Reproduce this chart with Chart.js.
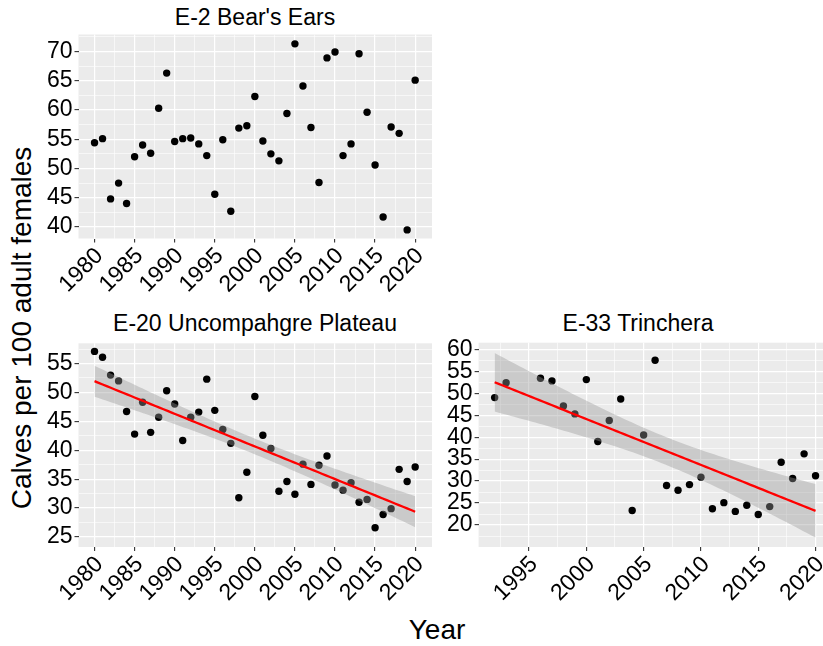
<!DOCTYPE html>
<html>
<head>
<meta charset="utf-8">
<script src="https://cdn.jsdelivr.net/npm/chart.js@4.4.1/dist/chart.umd.min.js"></script>
<style>
  html, body { margin: 0; padding: 0; background: #fff; }
  body { width: 823px; height: 646px; overflow: hidden; position: relative; font-family: "Liberation Sans", Arial, sans-serif; color: #000; }
  .panel { position: absolute; }
  .label { position: absolute; white-space: nowrap; transform: translate(-50%, -50%); }
  .ptitle { font-size: 23px; }
  .atitle { font-size: 28px; }
</style>
</head>
<body>
<div class="label ptitle" style="left:255px; top:17px;">E-2 Bear's Ears</div>
<div class="label ptitle" style="left:255px; top:323px;">E-20 Uncompahgre Plateau</div>
<div class="label ptitle" style="left:638px; top:323px;">E-33 Trinchera</div>
<div class="label atitle" style="left:22px; top:328px; transform: translate(-50%, -50%) rotate(-90deg);">Calves per 100 adult females</div>
<div class="label atitle" style="left:437px; top:630px;">Year</div>

<div class="panel" style="left:0; top:30px; width:440px; height:280px;"><canvas id="bearChart"></canvas></div>
<div class="panel" style="left:0; top:338px; width:440px; height:270px;"><canvas id="uncChart"></canvas></div>
<div class="panel" style="left:440px; top:338px; width:400px; height:270px;"><canvas id="trinChart"></canvas></div>

<script>
// E-2 Bear's Ears
const bearYears = [1980, 1981, 1982, 1983, 1984, 1985, 1986, 1987, 1988, 1989,
  1990, 1991, 1992, 1993, 1994, 1995, 1996, 1997, 1998, 1999,
  2000, 2001, 2002, 2003, 2004, 2005, 2006, 2007, 2008, 2009,
  2010, 2011, 2012, 2013, 2014, 2015, 2016, 2017, 2018, 2019, 2020];
const bearValues = [54.4, 55.1, 44.8, 47.5, 44.0, 52.0, 54.0, 52.6, 60.3, 66.3,
  54.6, 55.1, 55.2, 54.2, 52.2, 45.6, 54.9, 42.7, 56.9, 57.3,
  62.3, 54.7, 52.5, 51.3, 59.4, 71.3, 64.1, 57.0, 47.6, 68.9,
  69.9, 52.2, 54.2, 69.6, 59.6, 50.6, 41.7, 57.1, 56.0, 39.5, 65.1];

// E-20 Uncompahgre Plateau
const uncYears = bearYears;
const uncValues = [57.1, 56.1, 53.0, 52.0, 46.7, 42.8, 48.3, 43.1, 45.7, 50.3,
  48.0, 41.7, 45.7, 46.6, 52.3, 46.9, 43.6, 41.2, 31.8, 36.2,
  49.3, 42.6, 40.3, 32.9, 34.6, 32.4, 37.6, 34.1, 37.4, 39.0,
  34.0, 33.1, 34.4, 31.0, 31.5, 26.6, 28.9, 29.9, 36.7, 34.6, 37.1];

// E-33 Trinchera
const trinYears = [1992, 1993, 1996, 1997, 1998, 1999, 2000, 2001, 2002, 2003,
  2004, 2005, 2006, 2007, 2008, 2009, 2010, 2011, 2012, 2013,
  2014, 2015, 2016, 2017, 2018, 2019, 2020];
const trinValues = [49.0, 52.4, 53.4, 52.8, 47.1, 45.3, 53.1, 39.0, 43.8, 48.7,
  23.3, 40.5, 57.5, 29.0, 27.9, 29.2, 30.9, 23.7, 25.1, 23.1,
  24.5, 22.4, 24.2, 34.3, 30.6, 36.2, 31.2];

// axis tick labels
const yearTicksLong = [1980, 1985, 1990, 1995, 2000, 2005, 2010, 2015, 2020];
const yearTicksShort = [1995, 2000, 2005, 2010, 2015, 2020];
const bearTicksY = [40, 45, 50, 55, 60, 65, 70];
const uncTicksY = [25, 30, 35, 40, 45, 50, 55];
const trinTicksY = [20, 25, 30, 35, 40, 45, 50, 55, 60];

// 97.5% t quantiles for the lm confidence band (df = n - 2)
const tQuantile = { 39: 2.0227, 25: 2.0595 };

const FONT = "'Liberation Sans', Arial, sans-serif";

function toPoints(xs, ys) {
  return xs.map((x, i) => ({ x: x, y: ys[i] }));
}

// linear fit + 95% confidence ribbon, like geom_smooth(method = "lm")
function lmBand(xs, ys) {
  const n = xs.length;
  const mx = xs.reduce((a, b) => a + b, 0) / n;
  const my = ys.reduce((a, b) => a + b, 0) / n;
  let sxx = 0, sxy = 0;
  xs.forEach((x, i) => { sxx += (x - mx) * (x - mx); sxy += (x - mx) * (ys[i] - my); });
  const slope = sxy / sxx;
  const icpt = my - slope * mx;
  let sse = 0;
  xs.forEach((x, i) => { const r = ys[i] - (icpt + slope * x); sse += r * r; });
  const s = Math.sqrt(sse / (n - 2));
  const t = tQuantile[n - 2];
  const x0 = Math.min(...xs), x1 = Math.max(...xs);
  const fit = [], upper = [], lower = [];
  for (let i = 0; i < 80; i++) {
    const x = x0 + (x1 - x0) * i / 79;
    const yh = icpt + slope * x;
    const se = s * Math.sqrt(1 / n + (x - mx) * (x - mx) / sxx);
    fit.push({ x: x, y: yh });
    upper.push({ x: x, y: yh + t * se });
    lower.push({ x: x, y: yh - t * se });
  }
  return { fit, upper, lower };
}

// majors plus the half-way minor lines that fall inside the range
function withMinor(majors, min, max) {
  const step = majors[1] - majors[0];
  const out = [];
  const first = majors[0] - step / 2;
  for (let v = first; v <= majors[majors.length - 1] + step / 2 + 1e-9; v += step / 2) {
    if (v >= min - 1e-9 && v <= max + 1e-9) out.push(Math.round(v * 100) / 100);
  }
  return out;
}

function axis(min, max, majors, horizontal, size) {
  const all = withMinor(majors, min, max);
  const isMajor = (ctx) => ctx.tick && majors.includes(ctx.tick.value);
  return {
    type: "linear",
    min: min,
    max: max,
    afterBuildTicks: (s) => { s.ticks = all.map((v) => ({ value: v })); },
    afterFit: (s) => {
      if (horizontal) { s.height = size; } else { s.width = size; }
      s.paddingTop = 0; s.paddingBottom = 0; s.paddingLeft = 0; s.paddingRight = 0;
    },
    ticks: {
      autoSkip: false,
      color: "#000",
      font: { family: FONT, size: 23 },
      padding: horizontal ? 0 : 2,
      labelOffset: horizontal ? 5 : 0,
      minRotation: horizontal ? 45 : 0,
      maxRotation: horizontal ? 45 : 0,
      callback: (v) => (majors.includes(v) ? String(v) : "")
    },
    grid: {
      color: "#ffffff",
      lineWidth: (ctx) => (isMajor(ctx) ? 1.2 : 0.6),
      tickColor: (ctx) => (isMajor(ctx) ? "#333333" : "rgba(0,0,0,0)"),
      tickLength: 4,
      tickWidth: 1.1
    },
    border: { display: false }
  };
}

const plotBg = {
  id: "plotBg",
  beforeDraw(chart) {
    const a = chart.chartArea;
    const ctx = chart.ctx;
    ctx.save();
    ctx.fillStyle = "#EBEBEB";
    ctx.fillRect(a.left, a.top, a.right - a.left, a.bottom - a.top);
    ctx.restore();
  }
};

function buildPanel(id, o) {
  const datasets = [{
    type: "scatter",
    data: toPoints(o.xs, o.ys),
    pointRadius: 3.7,
    pointBackgroundColor: "#000",
    pointBorderWidth: 0,
    order: 3
  }];
  if (o.smooth) {
    const band = lmBand(o.xs, o.ys);
    datasets.push({
      type: "line",
      data: band.upper,
      borderColor: "transparent",
      borderWidth: 0,
      pointRadius: 0,
      backgroundColor: "rgba(153,153,153,0.4)",
      fill: "+1",
      order: 2
    });
    datasets.push({
      type: "line",
      data: band.lower,
      borderColor: "transparent",
      borderWidth: 0,
      pointRadius: 0,
      fill: false,
      order: 2
    });
    datasets.push({
      type: "line",
      data: band.fit,
      borderColor: "#FF0000",
      borderWidth: 2.3,
      pointRadius: 0,
      fill: false,
      order: 1
    });
  }
  return new Chart(document.getElementById(id), {
    type: "scatter",
    data: { datasets },
    options: {
      responsive: true,
      maintainAspectRatio: false,
      animation: false,
      layout: { padding: o.padding },
      plugins: { legend: { display: false }, tooltip: { enabled: false }, title: { display: false } },
      scales: {
        x: axis(o.xMin, o.xMax, o.xTicks, true, o.xAxisH),
        y: axis(o.yMin, o.yMax, o.yTicks, false, o.yAxisW)
      }
    },
    plugins: [plotBg]
  });
}

buildPanel("bearChart", {
  xs: bearYears, ys: bearValues, smooth: false,
  xMin: 1978, xMax: 2022.1, xTicks: yearTicksLong,
  yMin: 38.03, yMax: 72.9, yTicks: bearTicksY,
  padding: { top: 4.5, right: 8, left: 0, bottom: 0 },
  xAxisH: 71.5, yAxisW: 78.5
});

buildPanel("uncChart", {
  xs: uncYears, ys: uncValues, smooth: true,
  xMin: 1978, xMax: 2022.1, xTicks: yearTicksLong,
  yMin: 23.27, yMax: 58.5, yTicks: uncTicksY,
  padding: { top: 5.3, right: 8, left: 0, bottom: 0 },
  xAxisH: 61, yAxisW: 78.5
});

buildPanel("trinChart", {
  xs: trinYears, ys: trinValues, smooth: true,
  xMin: 1990.6, xMax: 2021.4, xTicks: yearTicksShort,
  yMin: 15.0, yMax: 61.5, yTicks: trinTicksY,
  padding: { top: 4.7, right: 8.4, left: 0, bottom: 0 },
  xAxisH: 61, yAxisW: 38.6
});
</script>
</body>
</html>
